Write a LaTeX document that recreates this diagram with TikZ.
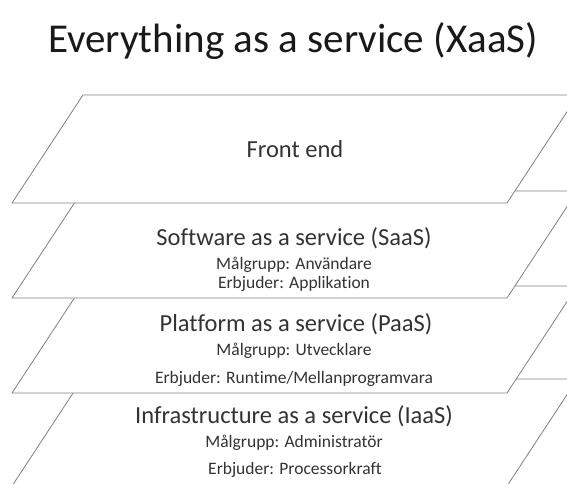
\documentclass[tikz,border=0pt]{standalone}
\usepackage{fontspec}
\setmainfont{Carlito}[Ligatures={NoCommon}]
\tikzset{
  x=1pt, y=-1pt,
  layer/.style={draw=black!50, line width=0.8pt, fill=white, line join=miter},
  bigtxt/.style={anchor=base, text=black!80, font=\fontsize{24.5}{28}\selectfont, inner sep=0pt},
  smalltxt/.style={anchor=base, text=black!80, font=\fontsize{17.5}{20}\selectfont, inner sep=0pt},
  titletxt/.style={anchor=base, text=black!90, font=\fontsize{41}{46}\selectfont, inner sep=0pt}
}
\newcommand\drawlayer[2]{% top, bottom
  \draw[layer] (12,#2) -- (507,#2) -- ({507+0.657*(#2-#1)},#1) -- ({12+0.657*(#2-#1)},#1) -- cycle;
}
\begin{document}
\begin{tikzpicture}
\useasboundingbox (0,0) rectangle (567,483);
\clip (0,0) rectangle (567,483);
\drawlayer{379}{486}
\drawlayer{286}{393}
\drawlayer{191}{298}
\drawlayer{95}{203}
\node[titletxt] (title) at (293,52) {Everything as a service (XaaS)};
\node[bigtxt] (fe) at (295,157) {Front end};
\node[bigtxt] (saas) at (294,245) {Software as a service (SaaS)};
\node[smalltxt] (saas1) at (294,269) {Målgrupp: Användare};
\node[smalltxt] (saas2) at (294,288) {Erbjuder: Applikation};
\node[bigtxt] (paas) at (296,331) {Platform as a service (PaaS)};
\node[smalltxt] (paas1) at (294,355) {Målgrupp: Utvecklare};
\node[smalltxt] (paas2) at (294,383) {Erbjuder: Runtime/Mellanprogramvara};
\node[bigtxt] (iaas) at (294,423) {Infrastructure as a service (IaaS)};
\node[smalltxt] (iaas1) at (294,447) {Målgrupp: Administratör};
\node[smalltxt] (iaas2) at (295,474) {Erbjuder: Processorkraft};
\end{tikzpicture}
\end{document}
